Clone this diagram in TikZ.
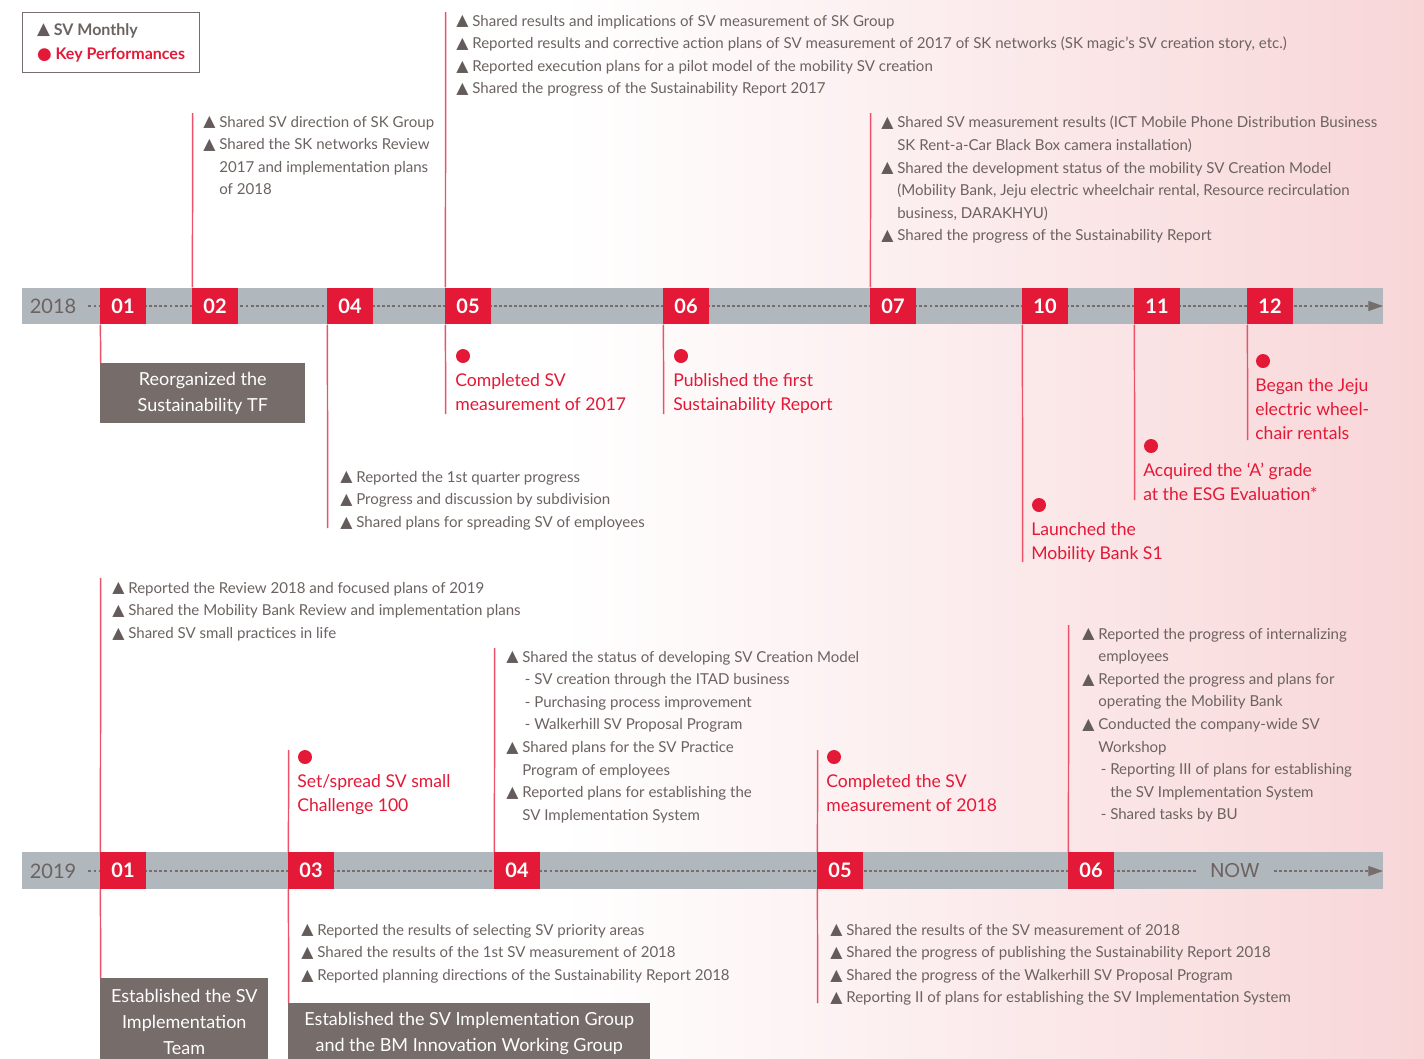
\documentclass[tikz,border=0pt]{standalone}
\usepackage{fontspec}
\setmainfont{Lato}
\newfontfamily\symfont{DejaVu Sans}[Scale=1.05]
\newfontfamily\nowfont{Poppins}
\usetikzlibrary{arrows.meta}
\definecolor{skred}{RGB}{228,25,55}
\definecolor{bargray}{RGB}{176,183,189}
\definecolor{boxgray}{RGB}{118,108,106}
\definecolor{txtgray}{RGB}{108,99,97}
\definecolor{trigray}{RGB}{100,92,90}
\definecolor{bgpink}{RGB}{248,214,216}
\definecolor{dotgray}{RGB}{118,110,108}
\newcommand\tri{{\symfont\color{trigray}\raisebox{0.3pt}{▲}}}
\newcommand\ind{\phantom{\tri\ }}
\newcommand\dsh{\phantom{- }}
\tikzset{
  month/.style={fill=skred,text=white,font=\fontsize{15}{15}\selectfont\bfseries,
    minimum width=34.5pt,minimum height=27.5pt,inner sep=0pt},
  yearlbl/.style={text=txtgray,font=\fontsize{15}{15}\selectfont,inner sep=0pt},
  vline/.style={draw=skred!75!white,line width=1.1pt},
  dotline/.style={draw=dotgray,line width=0.8pt,dash pattern=on 2.2pt off 1.6pt},
  sv/.style={text=txtgray,font=\fontsize{11.3}{16.9}\selectfont,align=left,
    anchor=north west,inner sep=0pt,yshift=-1.5pt},
  kp/.style={text=skred,font=\fontsize{13.2}{18}\selectfont,align=left,
    anchor=north west,inner sep=0pt},
  kpdot/.style={circle,fill=skred,minimum size=10.5pt,inner sep=0pt},
  tfbox/.style={fill=boxgray,text=white,font=\fontsize{13.5}{19.5}\selectfont,
    align=center,inner sep=0pt,anchor=north west}
}
\begin{document}
\begin{tikzpicture}[x=0.75pt,y=-0.75pt]
\useasboundingbox (0,0) rectangle (1424,1058);
\begin{scope}
\clip (0,0) rectangle (1424,1058);
% background
\fill[white] (0,0) rectangle (560,1058);
\shade[left color=white,right color=bgpink] (560,0) rectangle (1424,1058);

% legend
\node[draw=dotgray,line width=0.8pt,anchor=north west,minimum width=132.75pt,
  minimum height=45pt,inner xsep=6pt,align=left,
  font=\fontsize{12}{18}\selectfont\bfseries] (legend) at (22,12)
  {\textcolor{txtgray}{\tri\ SV Monthly}\\\textcolor{skred}{{\symfont ●}\ Key Performances}};

% ===== 2018 bar =====
\fill[bargray] (22,288) rectangle (1383,324);
\node[yearlbl] (yr18) at (53,306) {2018};
\coordinate (end18) at (1383,306);
\draw[dotline,-{Triangle[length=11pt,width=7.5pt]}] ([xshift=9pt]yr18.east) -- (end18);
\node[month] (m1801) at (123,306) {01};
\node[month] (m1802) at (215,306) {02};
\node[month] (m1804) at (350,306) {04};
\node[month] (m1805) at (468,306) {05};
\node[month] (m1806) at (686,306) {06};
\node[month] (m1807) at (893,306) {07};
\node[month] (m1810) at (1045,306) {10};
\node[month] (m1811) at (1157,306) {11};
\node[month] (m1812) at (1270,306) {12};

% 2018 connector ends
\coordinate (e1802) at (192,113);
\coordinate (e1804) at (327,528);
\coordinate (e1805u) at (445,12);
\coordinate (e1805d) at (445,414);
\coordinate (e1806) at (663,414);
\coordinate (e1807) at (870,113);
\coordinate (e1810) at (1022,562);
\coordinate (e1811) at (1134,500);
\coordinate (e1812) at (1247,440);

% 2018 box
\node[tfbox,minimum width=153.75pt,minimum height=45pt] (tf) at (100,363)
  {Reorganized the\\Sustainability TF};

\draw[vline] ([xshift=0.5pt]m1801.south west) -- ([xshift=0.5pt]tf.north west);
\draw[vline] ([xshift=0.5pt]m1802.north west) -- ([xshift=0.5pt]e1802);
\draw[vline] ([xshift=0.5pt]m1804.south west) -- ([xshift=0.5pt]e1804);
\draw[vline] ([xshift=0.5pt]m1805.north west) -- ([xshift=0.5pt]e1805u);
\draw[vline] ([xshift=0.5pt]m1805.south west) -- ([xshift=0.5pt]e1805d);
\draw[vline] ([xshift=0.5pt]m1806.south west) -- ([xshift=0.5pt]e1806);
\draw[vline] ([xshift=0.5pt]m1807.north west) -- ([xshift=0.5pt]e1807);
\draw[vline] ([xshift=0.5pt]m1810.south west) -- ([xshift=0.5pt]e1810);
\draw[vline] ([xshift=0.5pt]m1811.south west) -- ([xshift=0.5pt]e1811);
\draw[vline] ([xshift=0.5pt]m1812.south west) -- ([xshift=0.5pt]e1812);

% 2018 SV monthly texts
\node[sv] (t1802) at (203,114) {\tri\ Shared SV direction of SK Group\\
\tri\ Shared the SK networks Review\\
\ind 2017 and implementation plans\\
\ind of 2018};
\node[sv] (t1805) at (456,13) {\tri\ Shared results and implications of SV measurement of SK Group\\
\tri\ Reported results and corrective action plans of SV measurement of 2017 of SK networks (SK magic’s SV creation story, etc.)\\
\tri\ Reported execution plans for a pilot model of the mobility SV creation\\
\tri\ Shared the progress of the Sustainability Report 2017};
\node[sv] (t1807) at (881,114) {\tri\ Shared SV measurement results (ICT Mobile Phone Distribution Business\\
\ind SK Rent-a-Car Black Box camera installation)\\
\tri\ Shared the development status of the mobility SV Creation Model\\
\ind (Mobility Bank, Jeju electric wheelchair rental, Resource recirculation\\
\ind business, DARAKHYU)\\
\tri\ Shared the progress of the Sustainability Report};
\node[sv] (t1804) at (340,469) {\tri\ Reported the 1st quarter progress\\
\tri\ Progress and discussion by subdivision\\
\tri\ Shared plans for spreading SV of employees};

% 2018 key performances
\node[kpdot] (d1805) at (463,356) {};
\node[kp] (k1805) at (455,373) {Completed SV\\measurement of 2017};
\node[kpdot] (d1806) at (681,356) {};
\node[kp] (k1806) at (673,373) {Published the first\\Sustainability Report};
\node[kpdot] (d1812) at (1263,361) {};
\node[kp] (k1812) at (1255,378) {Began the Jeju\\electric wheel-\\chair rentals};
\node[kpdot] (d1811) at (1151,446) {};
\node[kp] (k1811) at (1143,463) {Acquired the ‘A’ grade\\at the ESG Evaluation*};
\node[kpdot] (d1810) at (1039,505) {};
\node[kp] (k1810) at (1031,522) {Launched the\\Mobility Bank S1};

% ===== 2019 bar =====
\fill[bargray] (22,852) rectangle (1383,889);
\node[yearlbl] (yr19) at (53,871) {2019};
\coordinate (end19) at (1383,871);
\draw[dotline,-{Triangle[length=11pt,width=7.5pt]}] ([xshift=9pt]yr19.east) -- (end19);
\node[month] (m1901) at (123,870.5) {01};
\node[month] (m1903) at (311,870.5) {03};
\node[month] (m1904) at (517,870.5) {04};
\node[month] (m1905) at (840,870.5) {05};
\node[month] (m1906) at (1091,870.5) {06};
\node[fill=bargray,text=txtgray,font=\nowfont\fontsize{15}{15}\selectfont,inner xsep=9pt,inner ysep=3pt] (now) at (1235,871) {NOW};

% 2019 connector ends
\coordinate (e1901) at (100,578);
\coordinate (e1903) at (288,750);
\coordinate (e1904) at (494,648);
\coordinate (e1905u) at (817,750);
\coordinate (e1905d) at (817,1003);
\coordinate (e1906) at (1068,625);

% 2019 boxes
\node[tfbox,minimum width=126pt,minimum height=65pt] (svteam) at (100,978)
  {Established the SV\\Implementation\\Team};
\node[tfbox,minimum width=271.5pt,minimum height=45pt] (svgroup) at (288,1003)
  {Established the SV Implementation Group\\and the BM Innovation Working Group};

\draw[vline] ([xshift=0.5pt]m1901.north west) -- ([xshift=0.5pt]e1901);
\draw[vline] ([xshift=0.5pt]m1901.south west) -- ([xshift=0.5pt]svteam.north west);
\draw[vline] ([xshift=0.5pt]m1903.north west) -- ([xshift=0.5pt]e1903);
\draw[vline] ([xshift=0.5pt]m1903.south west) -- ([xshift=0.5pt]svgroup.north west);
\draw[vline] ([xshift=0.5pt]m1904.north west) -- ([xshift=0.5pt]e1904);
\draw[vline] ([xshift=0.5pt]m1905.north west) -- ([xshift=0.5pt]e1905u);
\draw[vline] ([xshift=0.5pt]m1905.south west) -- ([xshift=0.5pt]e1905d);
\draw[vline] ([xshift=0.5pt]m1906.north west) -- ([xshift=0.5pt]e1906);

% 2019 SV monthly texts
\node[sv] (t1901) at (112,580) {\tri\ Reported the Review 2018 and focused plans of 2019\\
\tri\ Shared the Mobility Bank Review and implementation plans\\
\tri\ Shared SV small practices in life};
\node[sv] (t1904) at (506,649) {\tri\ Shared the status of developing SV Creation Model\\
\ind\,- SV creation through the ITAD business\\
\ind\,- Purchasing process improvement\\
\ind\,- Walkerhill SV Proposal Program\\
\tri\ Shared plans for the SV Practice\\
\ind Program of employees\\
\tri\ Reported plans for establishing the\\
\ind SV Implementation System};
\node[sv] (t1906) at (1082,626) {\tri\ Reported the progress of internalizing\\
\ind employees\\
\tri\ Reported the progress and plans for\\
\ind operating the Mobility Bank\\
\tri\ Conducted the company-wide SV\\
\ind Workshop\\
\ind\,- Reporting III of plans for establishing\\
\ind\,\dsh the SV Implementation System\\
\ind\,- Shared tasks by BU};
\node[sv] (t1903) at (301,922) {\tri\ Reported the results of selecting SV priority areas\\
\tri\ Shared the results of the 1st SV measurement of 2018\\
\tri\ Reported planning directions of the Sustainability Report 2018};
\node[sv] (t1905) at (830,922) {\tri\ Shared the results of the SV measurement of 2018\\
\tri\ Shared the progress of publishing the Sustainability Report 2018\\
\tri\ Shared the progress of the Walkerhill SV Proposal Program\\
\tri\ Reporting II of plans for establishing the SV Implementation System};

% 2019 key performances
\node[kpdot] (d1903) at (305,757) {};
\node[kp] (k1903) at (297,774) {Set/spread SV small\\Challenge 100};
\node[kpdot] (d1905) at (834,757) {};
\node[kp] (k1905) at (826,774) {Completed the SV\\measurement of 2018};
\end{scope}
\end{tikzpicture}
\end{document}
